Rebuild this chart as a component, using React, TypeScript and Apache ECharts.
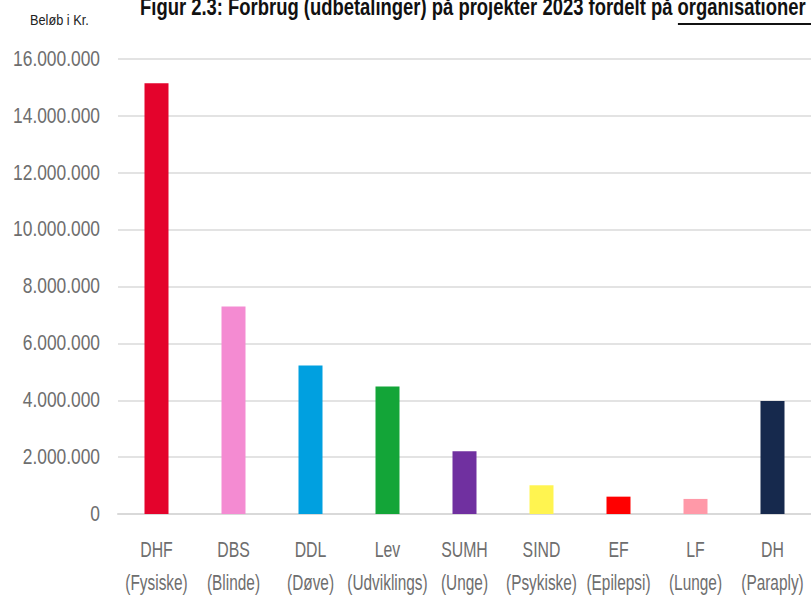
import React, { useEffect, useRef } from "react";
import * as echarts from "echarts";

const codes = ["DHF", "DBS", "DDL", "Lev", "SUMH", "SIND", "EF", "LF", "DH"];
const groups = ["Fysiske", "Blinde", "Døve", "Udviklings", "Unge", "Psykiske", "Epilepsi", "Lunge", "Paraply"];
const values = [15150000, 7300000, 5220000, 4480000, 2210000, 1010000, 610000, 530000, 3970000];
const colors = ["#e4032c", "#f48bd2", "#00a0e0", "#13a538", "#7030a0", "#fff450", "#ff0000", "#ff99a8", "#16294d"];
const yTicks = [0, 2000000, 4000000, 6000000, 8000000, 10000000, 12000000, 14000000, 16000000];

const titleMain = "Figur 2.3: Forbrug (udbetalinger) på projekter 2023 fordelt på ";
const titleUnder = "organisationer";
const unitLabel = "Beløb i Kr.";

const FONT = "'Liberation Sans', Arial, sans-serif";

function fmt(v: number): string {
  return String(Math.round(v)).replace(/\B(?=(\d{3})+(?!\d))/g, ".");
}

function measure(text: string, font: string): number {
  const c = document.createElement("canvas").getContext("2d");
  if (!c) return text.length * 10;
  c.font = font;
  return c.measureText(text).width;
}

export default function App() {
  const ref = useRef<HTMLDivElement>(null);
  useEffect(() => {
    if (!ref.current) return;
    const chart = echarts.init(ref.current, null, { renderer: "svg" });
    chart.setOption({
      animation: false,
      backgroundColor: "#ffffff",
      grid: { left: 118, right: 0, top: 59, bottom: 81, containLabel: false, outerBoundsMode: "none" },
      xAxis: {
        type: "category",
        data: codes,
        axisLine: { show: true, lineStyle: { color: "#d9d9d9", width: 2 } },
        axisTick: { show: false },
        axisLabel: { show: false },
      },
      yAxis: {
        type: "value",
        min: 0,
        max: 16000000,
        interval: 2000000,
        axisLine: { show: false },
        axisTick: { show: false },
        splitLine: { lineStyle: { color: "#e3e3e3", width: 2 } },
        axisLabel: { show: false },
      },
      series: [
        {
          type: "bar",
          barWidth: 24,
          data: values.map((v, i) => ({ value: v, itemStyle: { color: colors[i] } })),
        },
      ],
    });

    const labelFont = "22px " + FONT;
    const labelColor = "#6e6e6e";
    const graphics: any[] = [];

    yTicks.forEach((t) => {
      const py = chart.convertToPixel({ yAxisIndex: 0 }, t) as number;
      graphics.push({
        type: "text",
        x: 100,
        y: py - 1,
        scaleX: 0.79,
        style: {
          text: fmt(t),
          font: labelFont,
          fill: labelColor,
          align: "right",
          verticalAlign: "middle",
        },
      });
    });

    codes.forEach((c, i) => {
      const px = chart.convertToPixel({ xAxisIndex: 0 }, i) as number;
      graphics.push({
        type: "text",
        x: px,
        y: 557 - 7.6,
        scaleX: 0.72,
        style: { text: c, font: labelFont, fill: labelColor, align: "center", verticalAlign: "middle" },
      });
      graphics.push({
        type: "text",
        x: px,
        y: 590 - 7.6,
        scaleX: 0.7,
        style: { text: "(" + groups[i] + ")", font: labelFont, fill: labelColor, align: "center", verticalAlign: "middle" },
      });
    });

    const titleFont = "bold 23px " + FONT;
    const fullW = measure(titleMain + titleUnder, titleFont);
    const mainW = measure(titleMain, titleFont);
    const tScale = 666 / fullW;
    graphics.push({
      type: "text",
      x: 140,
      y: 15 - 8,
      scaleX: tScale,
      style: { text: titleMain + titleUnder, font: titleFont, fill: "#111111", verticalAlign: "middle" },
    });
    graphics.push({
      type: "rect",
      shape: { x: 140 + mainW * tScale, y: 23, width: 200, height: 2 },
      style: { fill: "#111111" },
    });
    graphics.push({
      type: "text",
      x: 30,
      y: 20,
      scaleX: 0.85,
      style: { text: unitLabel, font: "15px " + FONT, fill: "#222222", verticalAlign: "middle" },
    });

    chart.setOption({ graphic: graphics });
    return () => chart.dispose();
  }, []);
  return (
    <div
      ref={ref}
      style={{ position: "absolute", left: 0, top: 0, width: 811, height: 595 }}
    />
  );
}
